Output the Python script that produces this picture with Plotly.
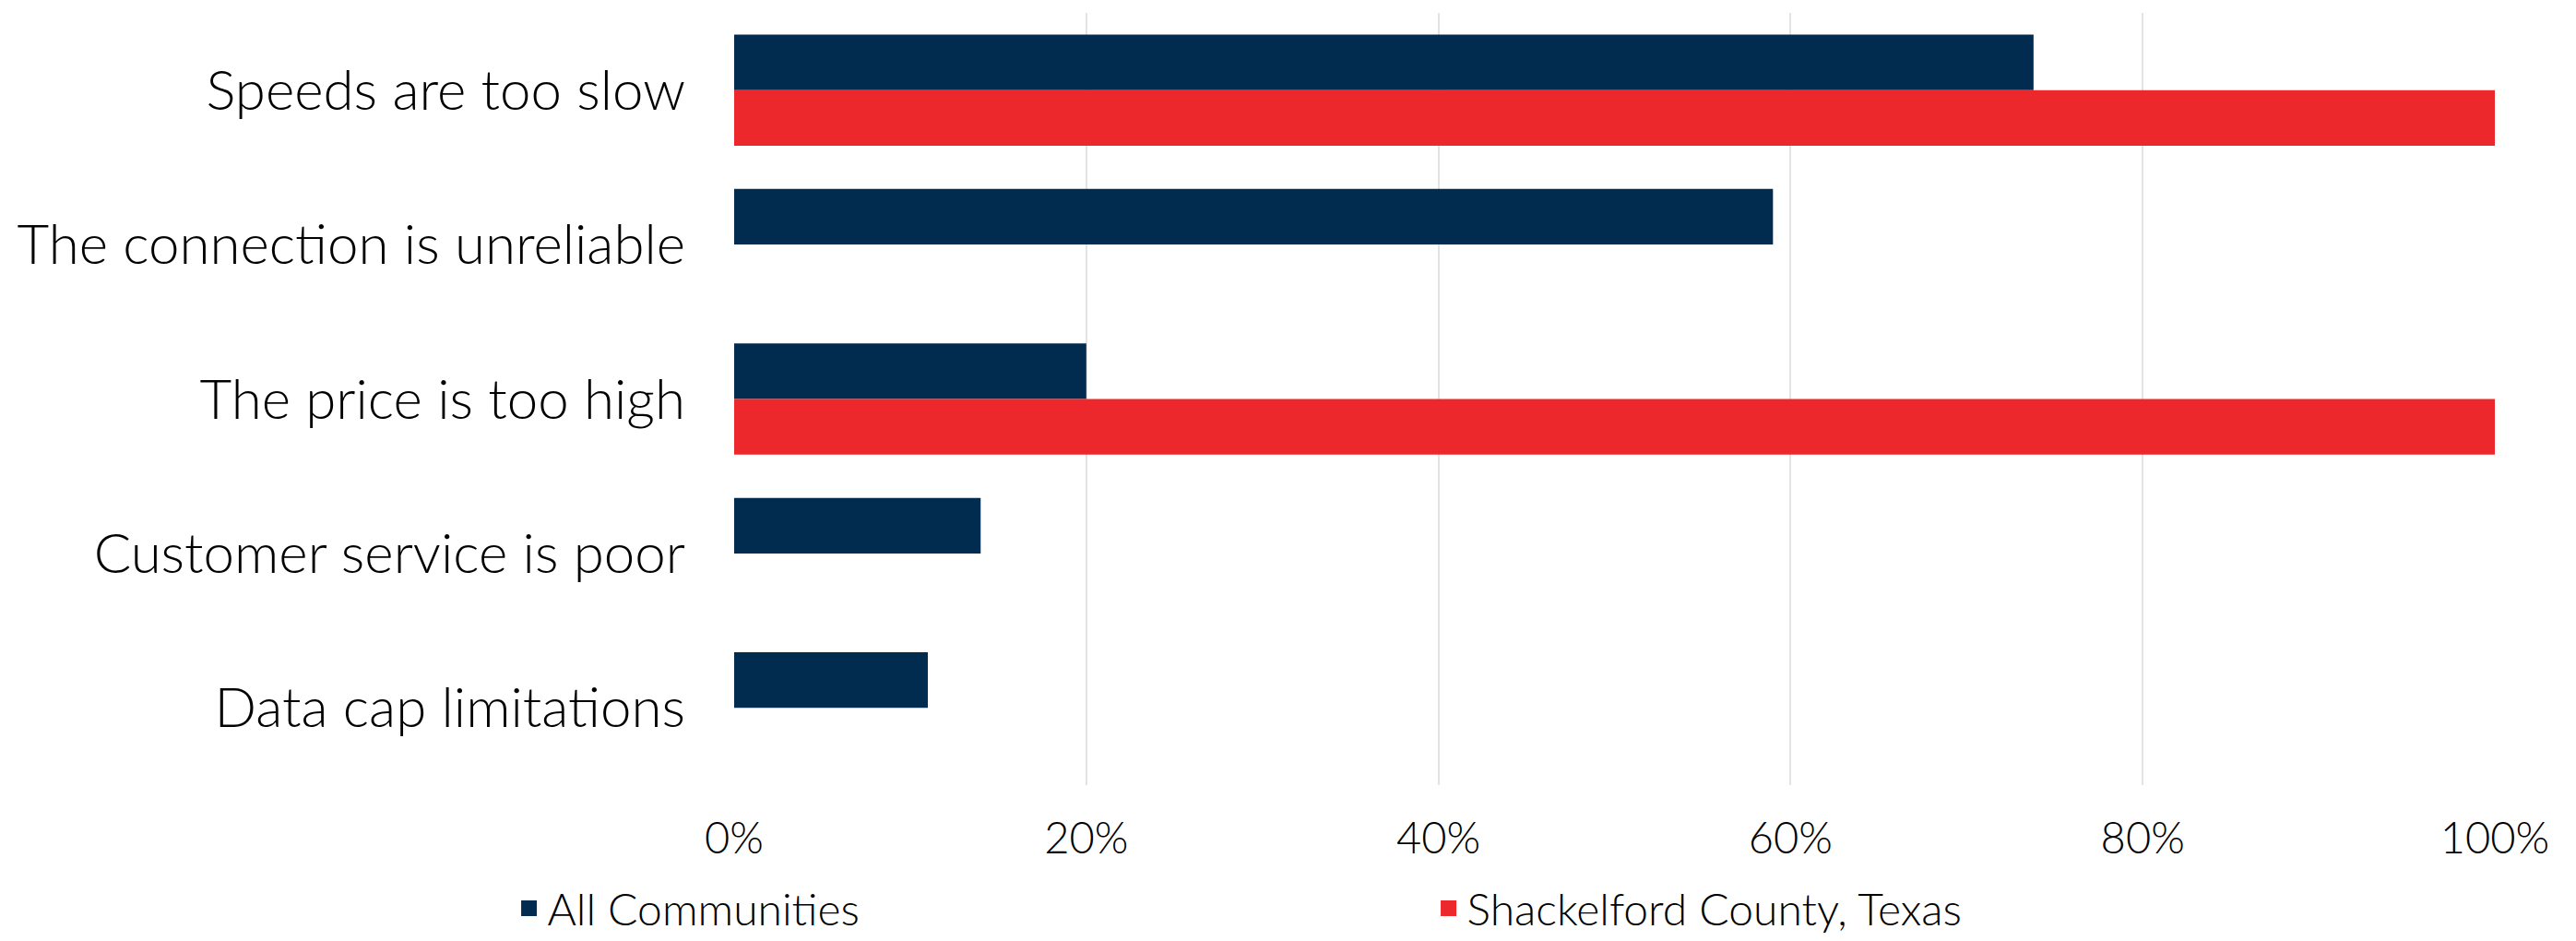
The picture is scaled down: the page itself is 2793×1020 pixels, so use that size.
import plotly.graph_objects as go

categories = ["Speeds are too slow", "The connection is unreliable", "The price is too high",
              "Customer service is poor", "Data cap limitations"]
all_communities = [0.738, 0.59, 0.20, 0.14, 0.11]
shackelford = [1.0, 0.0, 1.0, 0.0, 0.0]
series_names = ["All Communities", "Shackelford County, Texas"]
tick_vals = [0, 0.2, 0.4, 0.6, 0.8, 1.0]
tick_text = ["0%", "20%", "40%", "60%", "80%", "100%"]

BLUE = "#022C4F"
RED = "#EC282D"
FONT = "Lato, Open Sans, sans-serif"

fig = go.Figure()
for name, vals, col, grp in [(series_names[0], all_communities, BLUE, "a"),
                             (series_names[1], shackelford, RED, "b")]:
    fig.add_trace(go.Bar(y=categories, x=vals, orientation="h", name=name,
                         offsetgroup=grp, showlegend=False,
                         marker=dict(color=col, line=dict(width=0))))
# legend entries (no visible bars, larger swatch)
for name, col, grp in [(series_names[0], BLUE, "a"), (series_names[1], RED, "b")]:
    fig.add_trace(go.Bar(y=[categories[0]], x=[None], orientation="h", name=name,
                         offsetgroup=grp, showlegend=True, hoverinfo="skip",
                         marker=dict(color=col, line=dict(width=5, color=col))))

fig.update_layout(
    width=2793, height=1020,
    margin=dict(l=796, r=88, t=14, b=169, autoexpand=False),
    paper_bgcolor="white", plot_bgcolor="white",
    barmode="group", bargap=0.28, bargroupgap=0,
    font=dict(family=FONT, color="#000000", size=46, weight=300),
    showlegend=True,
    legend=dict(orientation="h", x=-0.127, xanchor="left", y=-0.160, yanchor="middle",
                font=dict(size=48, family=FONT, weight=300), entrywidth=952, entrywidthmode="pixels",
                traceorder="normal"),
)
fig.update_xaxes(range=[0, 1.0], tickvals=tick_vals, ticktext=tick_text, automargin=False,
                 showgrid=True, gridcolor="#E3E3E3", gridwidth=2, zeroline=False,
                 showline=False, ticks="", ticklabelstandoff=26,
                 tickfont=dict(size=47, family=FONT, weight=300))
fig.update_yaxes(autorange="reversed", showgrid=False, zeroline=False, showline=False,
                 ticks="", ticklabelstandoff=52, automargin=False,
                 tickfont=dict(size=60, family=FONT, weight=300))

fig.write_html("out.html", config={"displayModeBar": False},
               post_script="document.body.style.margin='0';")
